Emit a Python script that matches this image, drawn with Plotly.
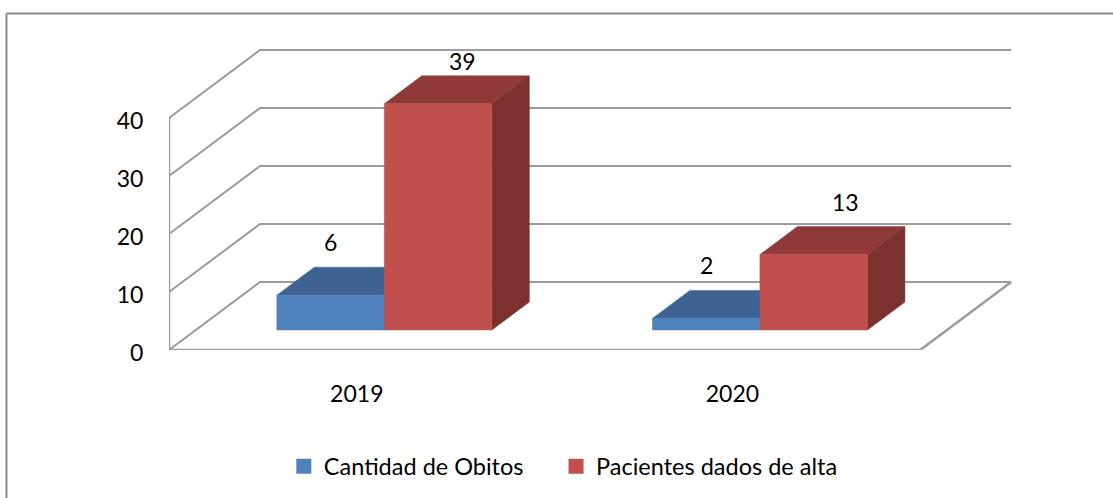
"""Clustered 3D-look column chart: oblique projection drawn on plain 2D axes."""

import plotly.graph_objects as go

YEARS = ["2019", "2020"]
SERIES_NAMES = ["Cantidad de Obitos", "Pacientes dados de alta"]
OBITOS = [6, 2]
ALTAS = [39, 13]
Y_TICKS = [0, 10, 20, 30, 40]

FONT = "Lato, Carlito, sans-serif"
GRID = "#9c9c9c"
BLUE = dict(front="#4f81bd", top="#3e6390", side="#38587f")
RED = dict(front="#c0504d", top="#8f3a38", side="#7b322f")

WIDTH, HEIGHT = 1113, 498
ORIGIN_X, ORIGIN_Y = 169, 350  # pixel position of the front-left floor corner

# pixels per axis unit, used to turn depth into an oblique offset
PX_X = 751 / 2
PX_Y = 232 / 40
DEPTH_X = 91 / PX_X
DEPTH_Y = 68 / PX_Y

# the axes run past the front plane so the back wall is not clipped
X_MAX = 2.5
Y_MAX = 55
PLOT_W = X_MAX * PX_X
PLOT_H = Y_MAX * PX_Y

# bar geometry inside one category, as fractions of the category / floor depth
BAR_W = 107.5 / PX_X
GROUP_START = 81 / PX_X
D_FRONT = 0.294
D_BACK = 0.706


def project(x, y, depth):
    return x + depth * DEPTH_X, y + depth * DEPTH_Y


def polygon(points, color):
    xs, ys = zip(*[project(*p) for p in points])
    return go.Scatter(
        x=list(xs) + [xs[0]], y=list(ys) + [ys[0]], mode="lines", fill="toself",
        fillcolor=color, line=dict(color=color, width=0.5),
        hoverinfo="skip", showlegend=False,
    )


def add_bar(fig, x0, value, colors):
    x1 = x0 + BAR_W
    fig.add_trace(polygon([(x0, value, D_FRONT), (x1, value, D_FRONT),
                           (x1, value, D_BACK), (x0, value, D_BACK)], colors["top"]))
    fig.add_trace(polygon([(x1, 0, D_FRONT), (x1, value, D_FRONT),
                           (x1, value, D_BACK), (x1, 0, D_BACK)], colors["side"]))
    fig.add_trace(polygon([(x0, 0, D_FRONT), (x1, 0, D_FRONT),
                           (x1, value, D_FRONT), (x0, value, D_FRONT)], colors["front"]))


def grid_line(points, width=2):
    xs, ys = zip(*points)
    return go.Scatter(x=xs, y=ys, mode="lines", line=dict(color=GRID, width=width),
                      hoverinfo="skip", showlegend=False)


fig = go.Figure()

# walls and floor
x_end = len(YEARS)
for v in Y_TICKS:
    fig.add_trace(grid_line([project(0, v, 0), project(0, v, 1), project(x_end, v, 1)]))
fig.add_trace(grid_line([project(0, 0, 0), project(x_end, 0, 0), project(x_end, 0, 1)], width=2.5))
fig.add_trace(grid_line([(0, 0), (0, Y_TICKS[-1])], width=2.5))

# bars and their value labels
for i in range(len(YEARS)):
    x_blue = i + GROUP_START
    x_red = x_blue + BAR_W
    add_bar(fig, x_blue, OBITOS[i], BLUE)
    add_bar(fig, x_red, ALTAS[i], RED)

    fig.add_annotation(x=x_blue + BAR_W / 2 + D_FRONT * DEPTH_X, y=OBITOS[i] + D_FRONT * DEPTH_Y,
                       text=str(OBITOS[i]), showarrow=False, yshift=53)
    # the tall bar's label gets squeezed against the top of the chart
    tall = ALTAS[i] > Y_TICKS[-1] - 5
    fig.add_annotation(x=x_red + BAR_W / 2 + D_FRONT * DEPTH_X, y=ALTAS[i] + D_FRONT * DEPTH_Y,
                       text=str(ALTAS[i]), showarrow=False,
                       xshift=24 if tall else 32, yshift=43 if tall else 53)

# legend entries only, one legend each so the gap between them can be set
for name, colors, legend in zip(SERIES_NAMES, [BLUE, RED], ["legend", "legend2"]):
    fig.add_trace(go.Scatter(x=[None], y=[None], mode="markers", name=name, legend=legend,
                             marker=dict(symbol="square", size=15, color=colors["front"])))

# chart frame: only the top and left edges are in the picture
frame_x = (6.5 - ORIGIN_X) / PLOT_W
frame_y = (ORIGIN_Y - 13.5) / PLOT_H
frame_line = dict(color="#8c8c8c", width=2)

legend_style = dict(orientation="h", xref="container", yref="container", y=0.1074, yanchor="top",
                    font=dict(size=23.5), itemwidth=30, bgcolor="rgba(0,0,0,0)")

fig.update_layout(
    width=WIDTH, height=HEIGHT,
    margin=dict(l=ORIGIN_X, r=WIDTH - ORIGIN_X - PLOT_W, t=ORIGIN_Y - PLOT_H, b=HEIGHT - ORIGIN_Y),
    font=dict(family=FONT, size=23, color="#000000"),
    paper_bgcolor="white",
    plot_bgcolor="rgba(0,0,0,0)",
    xaxis=dict(range=[0, X_MAX], tickvals=[i + 0.5 for i in range(len(YEARS))], ticktext=YEARS,
               showgrid=False, zeroline=False, showline=False, ticks="outside", ticklen=23,
               tickcolor="rgba(0,0,0,0)", tickfont=dict(size=23)),
    yaxis=dict(range=[0, Y_MAX], tickvals=Y_TICKS, showgrid=False, zeroline=False,
               showline=False, ticks="outside", ticklen=20, tickcolor="rgba(0,0,0,0)",
               ticklabelshift=3, tickfont=dict(size=23)),
    legend=dict(x=0.255, **legend_style),
    legend2=dict(x=0.4996, **legend_style),
    shapes=[
        dict(type="line", xref="paper", yref="paper", x0=frame_x, x1=1.1, y0=frame_y, y1=frame_y,
             line=frame_line),
        dict(type="line", xref="paper", yref="paper", x0=frame_x, x1=frame_x, y0=frame_y, y1=-0.5,
             line=frame_line),
    ],
)

# default page margins would push the figure 8px off the window corner
fig.write_html("out.html", config=dict(displayModeBar=False),
               post_script="document.body.style.margin='0';")
